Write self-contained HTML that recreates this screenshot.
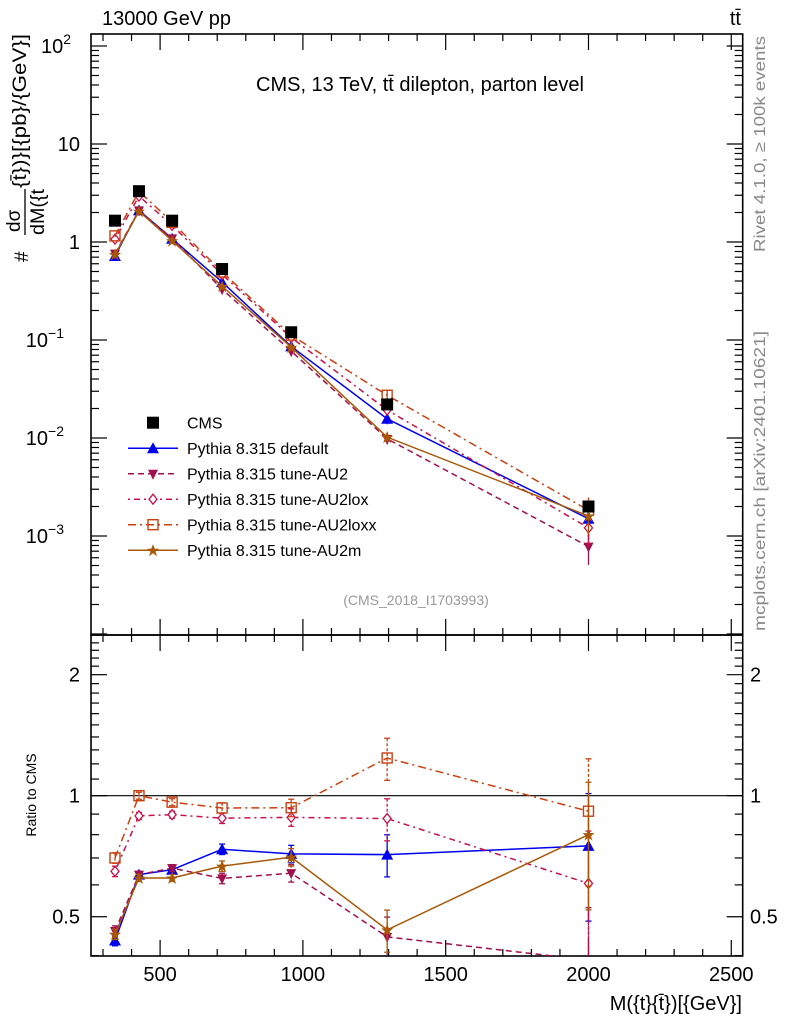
<!DOCTYPE html>
<html><head><meta charset="utf-8"><style>
html,body{margin:0;padding:0;background:#fff;}
svg{display:block;font-family:"Liberation Sans",sans-serif;}
</style></head><body>
<svg id="c" width="786" height="1024" viewBox="0 0 786 1024">
<text x="102" y="25" font-size="20">13000 GeV pp</text>
<text x="741" y="25" font-size="20" text-anchor="end">tt̄</text>
<text x="420" y="91" font-size="20" text-anchor="middle">CMS, 13 TeV, tt̄ dilepton, parton level</text>
<text x="416" y="605" font-size="14" fill="#999" text-anchor="middle">(CMS_2018_I1703993)</text>
<text transform="translate(765,252) rotate(-90)" font-size="16" fill="#888" textLength="216" lengthAdjust="spacingAndGlyphs">Rivet 4.1.0, ≥ 100k events</text>
<text transform="translate(765,631) rotate(-90)" font-size="16" fill="#888" textLength="300" lengthAdjust="spacingAndGlyphs">mcplots.cern.ch [arXiv:2401.10621]</text>
<g transform="translate(0,262) rotate(-90)" font-size="19">
<text x="0" y="28">#</text>
<text x="30" y="20">dσ</text>
<line x1="27" x2="73" y1="25" y2="25" stroke="#000" stroke-width="1.3"/>
<text x="27" y="44" textLength="46" lengthAdjust="spacingAndGlyphs">dM({t</text>
<text x="74" y="26" textLength="154" lengthAdjust="spacingAndGlyphs">{t̄})}[{pb}/{GeV}]</text>
</g>
<text transform="translate(36,795) rotate(-90)" font-size="14" text-anchor="middle">Ratio to CMS</text>
<text x="742" y="1010" font-size="20" text-anchor="end">M({t}{t̄})[{GeV}]</text>
<g id="g"></g>
</svg>
<script>
const massBins = [342, 426, 542, 717, 959, 1295, 2000];
const cmsValues = [1.65, 3.3, 1.65, 0.53, 0.12, 0.022, 0.002];
const defaultValues = [0.72, 2.1, 1.08, 0.39, 0.086, 0.0157, 0.0015];
const au2Values = [0.76, 2.1, 1.09, 0.33, 0.077, 0.0098, 0.00078];
const au2loxValues = [1.07, 2.94, 1.48, 0.466, 0.106, 0.0193, 0.00121];
const au2loxxValues = [1.155, 3.3, 1.59, 0.494, 0.112, 0.0273, 0.00183];
const au2mValues = [0.746, 2.06, 1.03, 0.354, 0.0844, 0.0102, 0.0016];
const relErrors = [0.03, 0.02, 0.02, 0.03, 0.05, 0.12, 0.35];
const xTickLabels = [500, 1000, 1500, 2000, 2500];

const NS = "http://www.w3.org/2000/svg";
const G = document.getElementById('g');
function el(t, a, p) { const e = document.createElementNS(NS, t); for (const k in a) e.setAttribute(k, a[k]); (p || G).appendChild(e); return e; }
const L = 91, R = 742.7, T = 34, MB = 635, RB = 956;
const X0 = 258, X1 = 2540;
const sx = v => L + (v - X0) / (X1 - X0) * (R - L);
const sy = v => 242 - Math.log10(v) * 98;
const sr = v => 795.7 - Math.log10(v) * 402;

for (const [t, b, n] of [[T, MB, 'main-frame'], [MB, RB, 'ratio-frame']]) {
  const r = el('rect', {x: L, y: t, width: R - L, height: b - t, fill: 'none', stroke: '#000', 'stroke-width': 1.6});
  
  
}
for (let v = 300; v <= 2500; v += 100) {
  const x = sx(v), big = v % 500 === 0, len = big ? 16 : 7;
  for (const [y0, d] of [[T, 1], [MB, -1], [MB, 1], [RB, -1]])
    el('line', {x1: x, x2: x, y1: y0, y2: y0 + d * len, stroke: '#000', 'stroke-width': 1.2});
}
xTickLabels.forEach(v => {
  const t = el('text', {x: sx(v), y: 981, 'font-size': 20, 'text-anchor': 'middle'});
  
  
  t.textContent = v;
});
for (let e = -5; e <= 2; e++) for (let m = 1; m <= 9; m++) {
  const v = m * Math.pow(10, e), y = sy(v);
  if (y < T || y > MB) continue;
  const len = m === 1 ? 16 : 8;
  el('line', {x1: L, x2: L + len, y1: y, y2: y, stroke: '#000', 'stroke-width': 1.2});
  el('line', {x1: R, x2: R - len, y1: y, y2: y, stroke: '#000', 'stroke-width': 1.2});
}
const yLab = [[100, '10', '2'], [10, '10', ''], [1, '1', ''], [0.1, '10', '−1'], [0.01, '10', '−2'], [0.001, '10', '−3']];
yLab.forEach(([v, b, s]) => {
  const t = el('text', {x: 80, y: sy(v) + 7, 'font-size': 20, 'text-anchor': 'end'});
  
  
  if (v === 10 || v === 1) t.textContent = v === 10 ? '10' : '1';
  else { t.textContent = b; const ts = el('tspan', {dy: -9, 'font-size': 14}, t); ts.textContent = s; }
  if (s) { t.setAttribute('x', 80 - (s.length * 7 + 2)); }
});
for (let v = 0.4; v <= 2.5; v += 0.1) {
  const r = Math.round(v * 10) / 10, y = sr(r);
  if (y < MB || y > RB) continue;
  const big = (r === 0.5 || r === 1 || r === 2), len = big ? 16 : 8;
  el('line', {x1: L, x2: L + len, y1: y, y2: y, stroke: '#000', 'stroke-width': 1.2});
  el('line', {x1: R, x2: R - len, y1: y, y2: y, stroke: '#000', 'stroke-width': 1.2});
}
[[2, '2'], [1, '1'], [0.5, '0.5']].forEach(([v, s]) => {
  const a = el('text', {x: 80, y: sr(v) + 7, 'font-size': 20, 'text-anchor': 'end'}); a.textContent = s;
  
  
  const b = el('text', {x: 750, y: sr(v) + 7, 'font-size': 20}); b.textContent = s;
  
  
});
const one = el('line', {x1: L, x2: R, y1: sr(1), y2: sr(1), stroke: '#000', 'stroke-width': 1.2});



function marker(p, kind, x, y, c) {
  if (kind === 'sq') el('rect', {x: x - 6, y: y - 6, width: 12, height: 12, fill: '#000'}, p);
  if (kind === 'up') el('path', {d: `M${x},${y - 6}L${x + 6},${y + 5}L${x - 6},${y + 5}Z`, fill: c}, p);
  if (kind === 'dn') el('path', {d: `M${x},${y + 6}L${x + 5},${y - 4}L${x - 5},${y - 4}Z`, fill: c}, p);
  if (kind === 'dia') el('path', {d: `M${x},${y - 5}L${x + 4},${y}L${x},${y + 5}L${x - 4},${y}Z`, fill: '#fff', stroke: c, 'stroke-width': 1.3}, p);
  if (kind === 'osq') el('rect', {x: x - 5, y: y - 5, width: 10, height: 10, fill: 'none', stroke: c, 'stroke-width': 1.4}, p);
  if (kind === 'star') el('path', {d: `M${x},${y - 6}L${x + 1.8},${y - 1.5}L${x + 6},${y - 1.5}L${x + 2.5},${y + 1.5}L${x + 4},${y + 6}L${x},${y + 3}L${x - 4},${y + 6}L${x - 2.5},${y + 1.5}L${x - 6},${y - 1.5}L${x - 1.8},${y - 1.5}Z`, fill: c}, p);
}
const series = [
  {n: 'default', v: defaultValues, c: '#0000ee', d: '', m: 'up', lab: 'Pythia 8.315 default'},
  {n: 'au2', v: au2Values, c: '#a0104f', d: '6,4', m: 'dn', lab: 'Pythia 8.315 tune-AU2'},
  {n: 'au2lox', v: au2loxValues, c: '#c8104a', d: '2,4,6,4', m: 'dia', lab: 'Pythia 8.315 tune-AU2lox'},
  {n: 'au2loxx', v: au2loxxValues, c: '#c84010', d: '8,4,2,4', m: 'osq', lab: 'Pythia 8.315 tune-AU2loxx'},
  {n: 'au2m', v: au2mValues, c: '#a85808', d: '', m: 'star', lab: 'Pythia 8.315 tune-AU2m'},
];
const clipR = el('clipPath', {id: 'cr'}); el('rect', {x: L, y: MB, width: R - L, height: RB - MB}, clipR);
series.forEach(s => {
  const gm = el('g', {}); 
  
  const gr = el('g', {'clip-path': 'url(#cr)'}); 
  
  const pm = massBins.map((x, i) => [sx(x), sy(s.v[i])]);
  const pr = massBins.map((x, i) => [sx(x), sr(s.v[i] / cmsValues[i])]);
  el('polyline', {points: pm.map(p => p.join(',')).join(' '), fill: 'none', stroke: s.c, 'stroke-width': 1.5, 'stroke-dasharray': s.d}, gm);
  el('polyline', {points: pr.map(p => p.join(',')).join(' '), fill: 'none', stroke: s.c, 'stroke-width': 1.5, 'stroke-dasharray': s.d}, gr);
  massBins.forEach((x, i) => {
    const e = relErrors[i];
    const a = sy(s.v[i] * (1 + e)), b = sy(s.v[i] * (1 - e));
    el('line', {x1: pm[i][0], x2: pm[i][0], y1: a, y2: b, stroke: s.c, 'stroke-width': 1.3}, gm);
    const ra = sr(s.v[i] / cmsValues[i] * (1 + e)), rb = sr(s.v[i] / cmsValues[i] * (1 - e));
    el('line', {x1: pr[i][0], x2: pr[i][0], y1: ra, y2: rb, stroke: s.c, 'stroke-width': 1.3, 'stroke-dasharray': s.d ? '3,2' : ''}, gr);
    for (const yy of [ra, rb]) el('line', {x1: pr[i][0] - 3, x2: pr[i][0] + 3, y1: yy, y2: yy, stroke: s.c, 'stroke-width': 1.3}, gr);
    marker(gm, s.m, pm[i][0], pm[i][1], s.c);
    marker(gr, s.m, pr[i][0], pr[i][1], s.c);
  });
});
const gc = el('g', {}); 

massBins.forEach((x, i) => marker(gc, 'sq', sx(x), sy(cmsValues[i]), '#000'));

const lg = el('g', {}); 

const ly0 = 422.7, ld = 25.5;
marker(lg, 'sq', 153, ly0, '#000');
el('text', {x: 187, y: ly0 + 6, 'font-size': 16}, lg).textContent = 'CMS';
series.forEach((s, i) => {
  const y = ly0 + ld * (i + 1);
  const en = el('g', {}, lg); 
  
  el('line', {x1: 128, x2: 178, y1: y, y2: y, stroke: s.c, 'stroke-width': 1.5, 'stroke-dasharray': s.d}, en);
  marker(en, s.m, 153, y, s.c);
  el('text', {x: 187, y: y + 6, 'font-size': 16}, en).textContent = s.lab;
});
</script>
</body></html>
